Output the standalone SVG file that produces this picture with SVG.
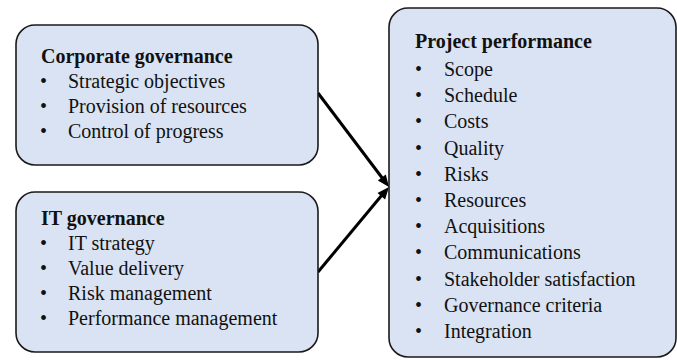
<svg xmlns="http://www.w3.org/2000/svg" width="677" height="360" viewBox="0 0 677 360">
<rect width="677" height="360" fill="#fff"/>
<g id="connectors" stroke="#000" stroke-width="3" fill="none">
<line x1="318" y1="93" x2="383" y2="179"/>
<polygon points="389,187 377.8,180.4 385.8,174.4" fill="#000" stroke="none"/>
<line x1="318" y1="272" x2="382" y2="195"/>
<polygon points="389,187 385.1,199.4 377.5,193" fill="#000" stroke="none"/>
</g>
<g font-family="Liberation Serif, serif" font-size="20" fill="#111">
<g id="corporate">
<rect x="16" y="25" width="302" height="140" rx="19" fill="#dae3f3" stroke="#1a1a1a" stroke-width="1.6"/>
<text x="41" y="63" font-weight="bold">Corporate governance</text>
<text x="40" y="88">•</text><text x="68" y="88">Strategic objectives</text>
<text x="40" y="113">•</text><text x="68" y="113">Provision of resources</text>
<text x="40" y="138">•</text><text x="68" y="138">Control of progress</text>
</g>
<g id="it">
<rect x="16" y="192" width="302" height="160" rx="19" fill="#dae3f3" stroke="#1a1a1a" stroke-width="1.6"/>
<text x="41" y="224.5" font-weight="bold">IT governance</text>
<text x="40" y="249.5">•</text><text x="68" y="249.5">IT strategy</text>
<text x="40" y="274.5">•</text><text x="68" y="274.5">Value delivery</text>
<text x="40" y="299.5">•</text><text x="68" y="299.5">Risk management</text>
<text x="40" y="324.5">•</text><text x="68" y="324.5">Performance management</text>
</g>
<g id="project">
<rect x="389" y="8" width="287" height="349" rx="19" fill="#dae3f3" stroke="#1a1a1a" stroke-width="1.6"/>
<text x="415" y="48" font-weight="bold">Project performance</text>
<text x="415" y="76">•</text><text x="444" y="76">Scope</text>
<text x="415" y="102.2">•</text><text x="444" y="102.2">Schedule</text>
<text x="415" y="128.4">•</text><text x="444" y="128.4">Costs</text>
<text x="415" y="154.6">•</text><text x="444" y="154.6">Quality</text>
<text x="415" y="180.8">•</text><text x="444" y="180.8">Risks</text>
<text x="415" y="207">•</text><text x="444" y="207">Resources</text>
<text x="415" y="233.2">•</text><text x="444" y="233.2">Acquisitions</text>
<text x="415" y="259.4">•</text><text x="444" y="259.4">Communications</text>
<text x="415" y="285.6">•</text><text x="444" y="285.6">Stakeholder satisfaction</text>
<text x="415" y="311.8">•</text><text x="444" y="311.8">Governance criteria</text>
<text x="415" y="338">•</text><text x="444" y="338">Integration</text>
</g>
</g>
</svg>
